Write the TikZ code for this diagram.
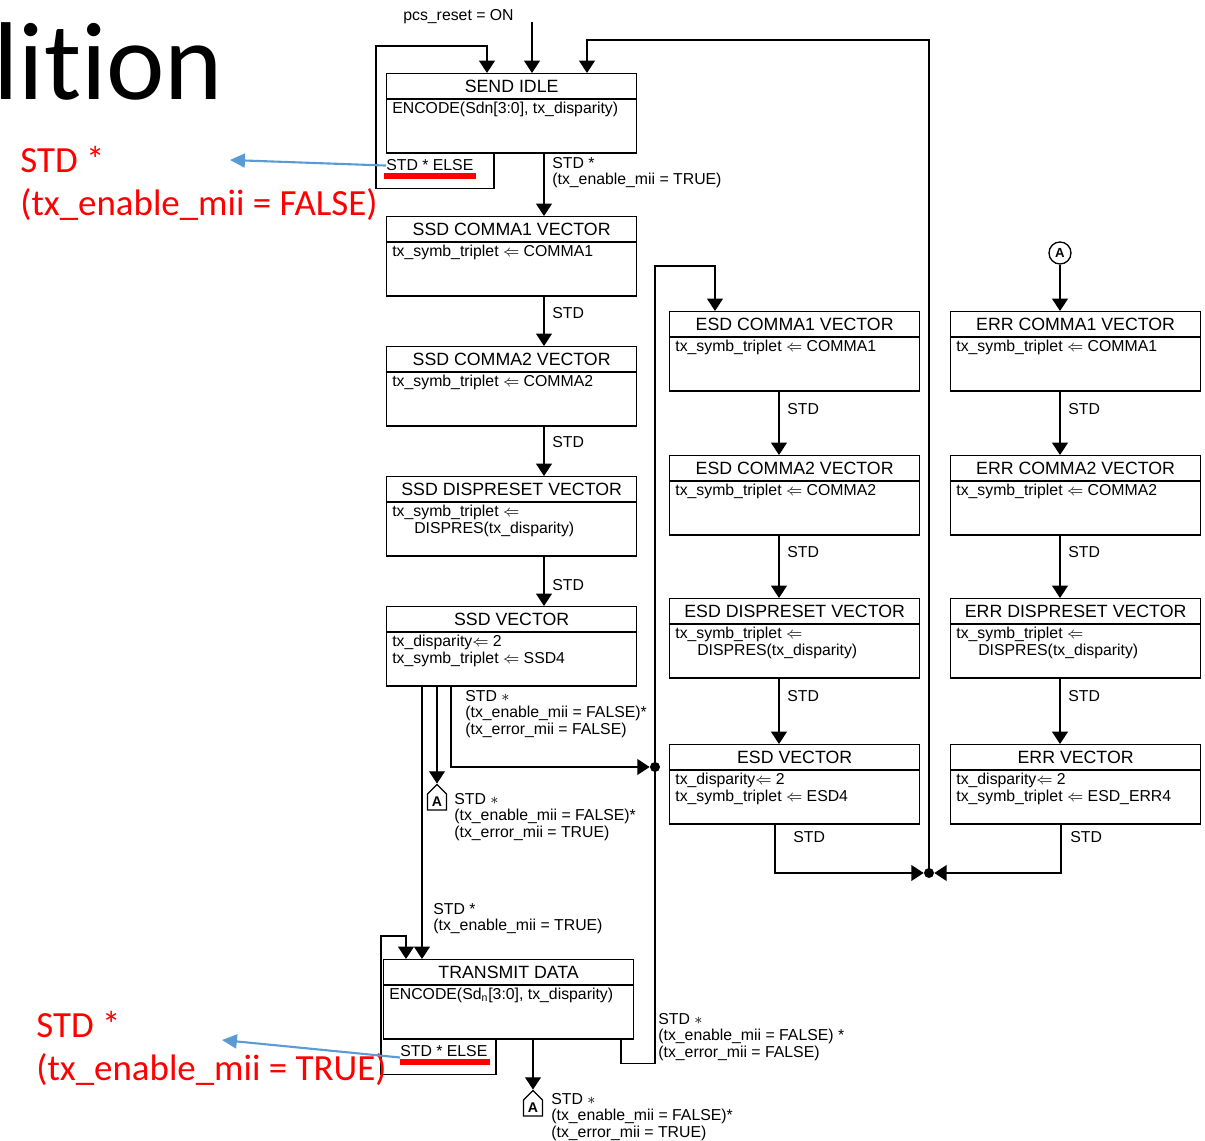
\documentclass[tikz,border=0pt]{standalone}
\usepackage{fontspec}
\setmainfont{Liberation Sans}
\newfontfamily\calib[Ligatures=NoCommon]{Carlito}
\usetikzlibrary{positioning,calc,arrows.meta,shapes.symbols}

\definecolor{slidered}{RGB}{255,0,0}
\definecolor{slideblue}{RGB}{91,155,213}

\begin{document}
\begin{tikzpicture}[x=0.02cm,y=-0.02cm,
	sbox/.style={draw,line width=0.75pt,minimum width=5cm,minimum height=1.59cm,anchor=north west,inner sep=0},
	ttl/.style={font=\fontsize{10.1}{12}\selectfont,inner sep=0},
	body/.style={font=\fontsize{9}{9.3}\selectfont,align=left,anchor=north west,inner sep=0},
	lbl/.style={font=\fontsize{9}{9.4}\selectfont,align=left,anchor=north west,inner sep=0},
	ln/.style={line width=0.75pt},
	arr/.style={ln,-{Triangle[length=7pt,width=9pt]}},
	dot/.style={circle,fill,inner sep=0,minimum size=0.2cm},
	offpage/.style={draw,ln,signal,signal to=north,signal pointer angle=90,minimum width=0.38cm,minimum height=0.42cm,inner sep=0,font=\bfseries\fontsize{8}{8}\selectfont},
	onpage/.style={draw,ln,circle,minimum size=0.44cm,inner sep=0,font=\bfseries\fontsize{7.5}{7.5}\selectfont},
	note/.style={font=\calib\fontsize{21}{24.4}\selectfont,text=slidered,align=left,anchor=north west,inner sep=0},
	blu/.style={slideblue,line width=1.2pt,-{Triangle[length=8.5pt,width=8pt]}}]
\def\lar{$\Leftarrow$}
\def\statebox#1#2#3#4#5{%
	\node[sbox] (#1) at (#2,#3) {};
	\draw[ln] ($(#1.north west)+(0,26)$) -- ($(#1.north east)+(0,26)$);
	\node[ttl] (#1-t) at ($(#1.north)+(0,13)$) {#4};
	\node[body] (#1-b) at ($(#1.north west)+(6,29)$) {#5};
}

\useasboundingbox (0,0) rectangle (1205,1141);

\node[font=\calib\fontsize{63}{63}\selectfont,anchor=base west,inner sep=0] (hdr) at (-7,100) {lition};

% start-up path
\statebox{si}{386}{73}{SEND IDLE}{ENCODE(Sdn[3:0], tx\_disparity)}
\statebox{ssdc1}{386}{216}{SSD COMMA1 VECTOR}{tx\_symb\_triplet \lar\ COMMA1}
\statebox{ssdc2}{386}{346}{SSD COMMA2 VECTOR}{tx\_symb\_triplet \lar\ COMMA2}
\statebox{ssdr}{386}{476}{SSD DISPRESET VECTOR}{tx\_symb\_triplet \lar\\\hspace*{12.5pt}DISPRES(tx\_disparity)}
\statebox{ssdv}{386}{606}{SSD VECTOR}{tx\_disparity\lar\ 2\\tx\_symb\_triplet \lar\ SSD4}
\statebox{td}{383}{959}{TRANSMIT DATA}{ENCODE(Sd\textsubscript{n}[3:0], tx\_disparity)}

% end and error paths
\foreach \col/\x/\p/\v in {esd/669/ESD/ESD4,err/950/ERR/ESD\_ERR4}{
	\statebox{\col1}{\x}{311}{\p\ COMMA1 VECTOR}{tx\_symb\_triplet \lar\ COMMA1}
	\statebox{\col2}{\x}{455}{\p\ COMMA2 VECTOR}{tx\_symb\_triplet \lar\ COMMA2}
	\statebox{\col3}{\x}{598}{\p\ DISPRESET VECTOR}{tx\_symb\_triplet \lar\\\hspace*{12.5pt}DISPRES(tx\_disparity)}
	\statebox{\col4}{\x}{744}{\p\ VECTOR}{tx\_disparity\lar\ 2\\tx\_symb\_triplet \lar\ \v}
	\foreach \a/\b/\y in {1/2/409,2/3/552,3/4/696}{
		\draw[arr] ($(\col\a.south west)+(110,0)$) -- ($(\col\b.north west)+(110,0)$);
		\node[lbl,anchor=west] (std\col\a) at (\x+118,\y) {STD};
	}
}

\node[dot] (mg1) at (655,767) {};
\node[dot] (mg2) at (929,873) {};
\node[onpage] (conA) at (1060,253) {A};
\node[offpage] (offA1) at (437,802) {A};
\node[offpage] (offA2) at (533,1108) {A};

% SEND IDLE
\node[lbl] (rst) at (403,9) {pcs\_reset = ON};
\coordinate (rstin) at (532,22);
\draw[arr] (rstin) -- (rstin |- si.north);
\draw[arr] ($(si.south west)+(108,0)$) -- ++(0,35) -| ($(si.north west)+(-10,-27)$) -| ($(si.north west)+(101,0)$);
\draw[arr] (mg2.center) |- ($(si.north west)+(201,-33)$) -- ($(si.north west)+(201,0)$);
\node[lbl,anchor=base west] (else1) at (386,171) {STD * ELSE};
\draw[slidered,line width=3pt] ($(else1.base west)+(-2,5)$) -- ($(else1.base east)+(2,5)$);
\draw[arr] ($(si.south west)+(158,0)$) -- ($(ssdc1.north west)+(158,0)$);
\node[lbl] (lsi) at (552,157) {STD *\\(tx\_enable\_mii = TRUE)};

\foreach \a/\b/\y in {ssdc1/ssdc2/313,ssdc2/ssdr/442,ssdr/ssdv/585}{
	\draw[arr] ($(\a.south west)+(158,0)$) -- ($(\b.north west)+(158,0)$);
	\node[lbl,anchor=west] (std\a) at (552,\y) {STD};
}

% SSD VECTOR exits
\draw[arr] ($(ssdv.south west)+(65,0)$) |- (mg1.west);
\draw[arr] ($(ssdv.south west)+(51,0)$) -- (offA1.north);
\draw[arr] ($(ssdv.south west)+(36,0)$) -- ($(td.north west)+(39,0)$);
\node[lbl] (lsv1) at (465,690) {STD $\ast$\\(tx\_enable\_mii = FALSE)*\\(tx\_error\_mii = FALSE)};
\node[lbl] (lsv2) at (454,793) {STD $\ast$\\(tx\_enable\_mii = FALSE)*\\(tx\_error\_mii = TRUE)};
\node[lbl] (lsv3) at (433,903) {STD *\\(tx\_enable\_mii = TRUE)};

% TRANSMIT DATA
\draw[arr] ($(td.south west)+(113,0)$) -- ++(0,35) -| ($(td.north west)+(-2,-23)$) -| ($(td.north west)+(23,0)$);
\node[lbl,anchor=base west] (else2) at (400,1057) {STD * ELSE};
\draw[slidered,line width=3pt] ($(else2.base west)+(0,5)$) -- ($(else2.base east)+(2,5)$);
\draw[arr] ($(td.south west)+(238,0)$) -- ++(0,24) -| ($(esd1.north west)+(-14,-45)$) -| ($(esd1.north west)+(46,0)$);
\draw[arr] ($(td.south west)+(150,0)$) -- (offA2.north);
\node[lbl] (ltd1) at (658,1013) {STD $\ast$\\(tx\_enable\_mii = FALSE) *\\(tx\_error\_mii = FALSE)};
\node[lbl] (ltd2) at (551,1093) {STD $\ast$\\(tx\_enable\_mii = FALSE)*\\(tx\_error\_mii = TRUE)};

% back to SEND IDLE
\draw[arr] (conA) -- (conA |- err1.north);
\draw[arr] ($(esd4.south west)+(106,0)$) |- (mg2.west);
\draw[arr] ($(err4.south west)+(111,0)$) |- (mg2.east);
\node[lbl,anchor=west] (stdesd4) at (793,837) {STD};
\node[lbl,anchor=west] (stderr4) at (1070,837) {STD};

% slide notes
\node[note] (noteA) at (20,146) {STD *\\(tx\_enable\_mii = FALSE)};
\coordinate (tipA) at (230,160);
\draw[blu] (else1.west) -- (tipA);
\node[note] (noteB) at (36,1011) {STD *\\(tx\_enable\_mii = TRUE)};
\coordinate (tipB) at (222,1040);
\draw[blu] (else2.south west) -- (tipB);

\end{tikzpicture}
\end{document}
